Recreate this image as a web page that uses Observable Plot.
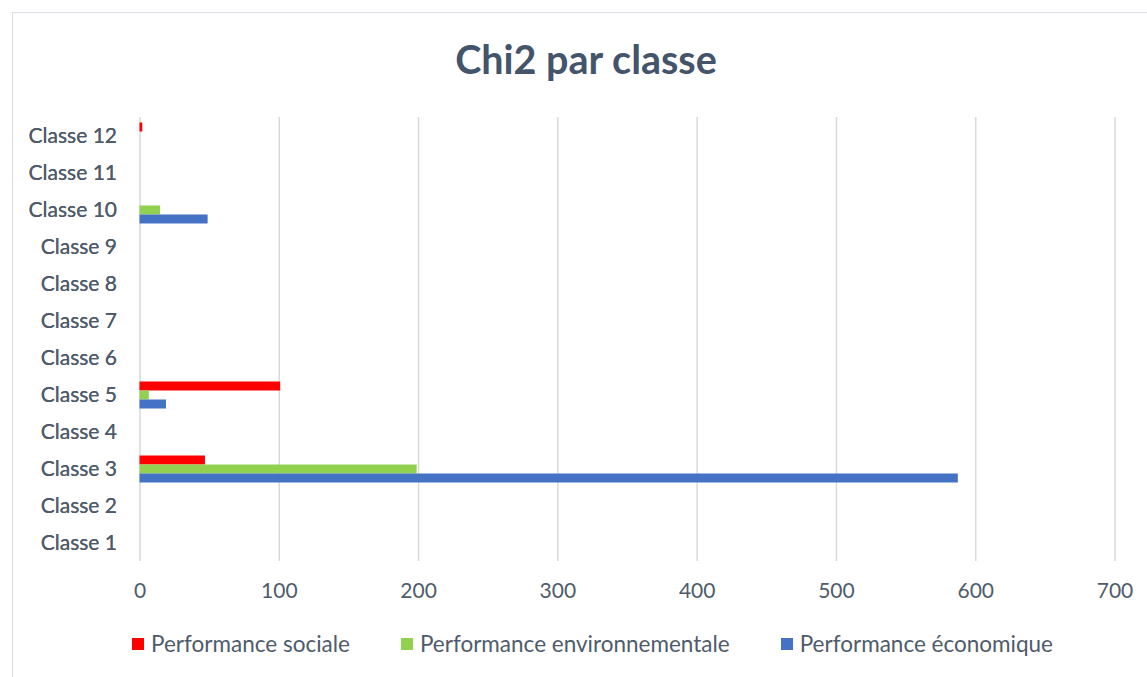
<!DOCTYPE html>
<html>
<head>
<meta charset="utf-8">
<script src="https://cdn.jsdelivr.net/npm/d3@7"></script>
<script src="https://cdn.jsdelivr.net/npm/@observablehq/plot@0.6"></script>
<style>
  html, body { margin: 0; padding: 0; background: #fff; overflow: hidden; }
  #page { position: relative; width: 1147px; height: 677px; font-family: Lato, "Open Sans", sans-serif; }
  #frame { position: absolute; left: 12px; top: 12px; width: 1160px; height: 700px; border: 1.5px solid #D9DEE4; box-sizing: border-box; }
  #title { position: absolute; left: 0; width: 1172px; top: 35px; text-align: center; font-size: 39.5px; font-weight: 700; color: #44546A; }
  #chart { position: absolute; left: 0; top: 100px; }
  #legend { position: absolute; left: 0; width: 1185px; top: 630px; display: flex; justify-content: center; gap: 51px; font-size: 22.5px; color: #4F5B6B; }
  .item { display: flex; align-items: center; gap: 7px; }
  .sw { width: 12px; height: 12px; display: inline-block; }
</style>
</head>
<body>
<div id="page">
  <div id="frame"></div>
  <div id="title">Chi2 par classe</div>
  <div id="chart"></div>
  <div id="legend"></div>
</div>
<script>
const classes = ["Classe 1","Classe 2","Classe 3","Classe 4","Classe 5","Classe 6","Classe 7","Classe 8","Classe 9","Classe 10","Classe 11","Classe 12"];
const series = ["Performance sociale","Performance environnementale","Performance économique"];
const colors = ["#FF0000","#92D050","#4472C4"];
const sociale =          [0, 0, 47, 0, 101, 0, 0, 0, 0, 0, 0, 2];
const environnementale = [0, 0, 199, 0, 6.7, 0, 0, 0, 0, 14.8, 0, 0];
const economique =       [0, 0, 587.5, 0, 19, 0, 0, 0, 0, 48.9, 0, 0];
const xTicks = [0, 100, 200, 300, 400, 500, 600, 700];

const rows = [];
classes.forEach((c, i) => {
  [sociale, environnementale, economique].forEach((arr, j) => {
    rows.push({classe: c, serie: series[j], value: arr[i]});
  });
});

const chart = Plot.plot({
  width: 1147,
  height: 520,
  marginLeft: 139.5,
  marginRight: 32.5,
  marginTop: 16.5,
  marginBottom: 58,
  style: {fontFamily: "Lato, 'Open Sans', sans-serif", fontSize: "21px", color: "#4F5B6B", background: "transparent"},
  x: {domain: [0, 700], ticks: xTicks, tickSize: 0, tickPadding: 22, label: null},
  fy: {domain: classes.slice().reverse(), padding: 0, label: null, tickSize: 0, tickPadding: 23, axis: "left"},
  y: {domain: series, paddingInner: 0, paddingOuter: 0.5, axis: null},
  color: {domain: series, range: colors},
  marks: [
    Plot.gridX(xTicks, {stroke: "#D9D9D9", strokeOpacity: 1, strokeWidth: 1.5}),
    Plot.barX(rows, {fy: "classe", y: "serie", x: "value", fill: "serie"}),
    Plot.axisX({ticks: xTicks, tickSize: 0, tickPadding: 22, fontSize: 21, fill: "#4F5B6B", label: null}),
    Plot.axisFy({anchor: "left", tickSize: 0, tickPadding: 23, fontSize: 21, fill: "#4F5B6B", label: null})
  ]
});
document.getElementById("chart").appendChild(chart);

const legend = document.getElementById("legend");
series.forEach((s, i) => {
  const it = document.createElement("div");
  it.className = "item";
  const sw = document.createElement("span");
  sw.className = "sw";
  sw.style.background = colors[i];
  const tx = document.createElement("span");
  tx.textContent = s;
  it.appendChild(sw); it.appendChild(tx);
  legend.appendChild(it);
});
</script>
</body>
</html>
